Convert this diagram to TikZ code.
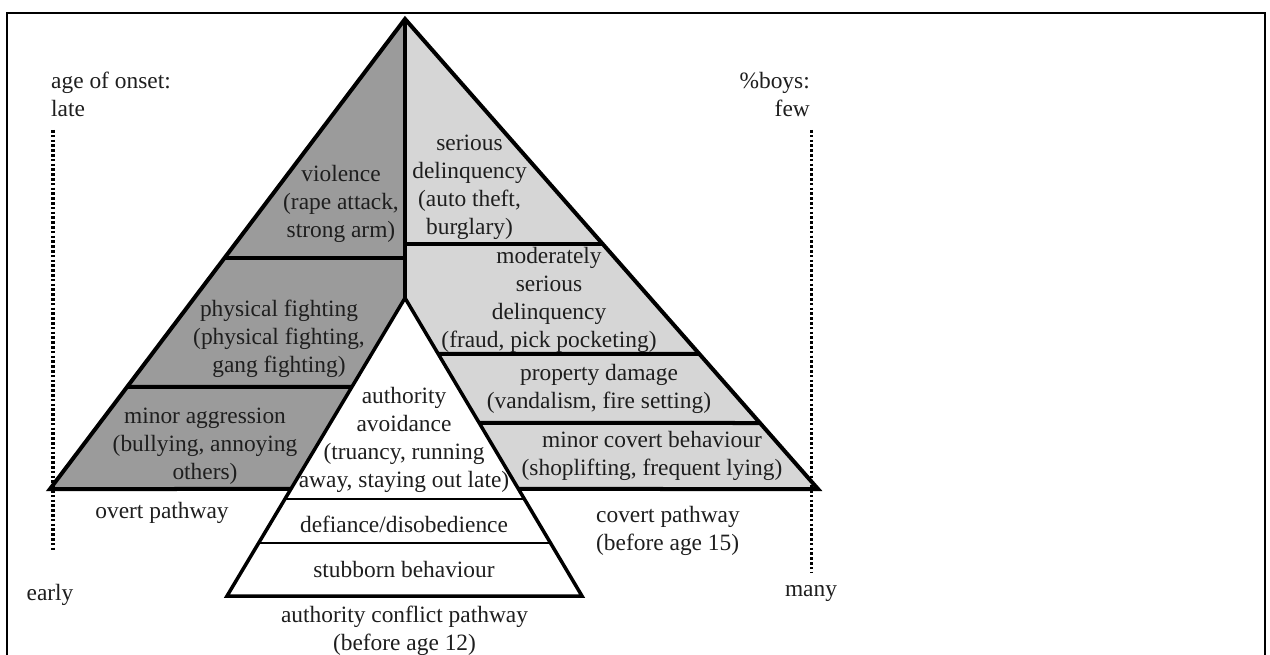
\documentclass[tikz,border=0pt]{standalone}
\usepackage{fontspec}
\setmainfont{Liberation Serif}
\usetikzlibrary{calc}
\definecolor{overtgray}{RGB}{155,155,155}
\definecolor{covertgray}{RGB}{214,214,214}
\definecolor{inktext}{RGB}{30,30,30}
\begin{document}
\begin{tikzpicture}[x=1pt,y=-1pt,
  lbl/.style={font=\fontsize{23.4}{28}\selectfont, inner sep=0pt, align=center, text=inktext},
  outline/.style={line width=4pt, line join=miter},
  innerline/.style={line width=3.5pt, line join=miter},
  sepline/.style={line width=4pt},
  thinsep/.style={line width=2.5pt},
  dotline/.style={line width=3.2pt, dash pattern=on 2.6pt off 2.2pt},
  frameline/.style={line width=2pt}]
\useasboundingbox (0,0) rectangle (1270,655);
\fill[white] (0,0) rectangle (1270,655);
% frame
\coordinate (f1) at (7,655);
\coordinate (f2) at (7,13);
\coordinate (f3) at (1265,13);
\coordinate (f4) at (1265,655);
\draw[frameline] (f1) -- (f2) -- (f3) -- (f4);
% main geometry
\coordinate (A) at (405,19);
\coordinate (L) at (50,489);
\coordinate (R) at (818,489);
\coordinate (I) at (405,298);
\coordinate (IL) at (227,596);
\coordinate (IR) at (582,596);
\coordinate (ILb) at ($(I)!{191/298}!(IL)$);
\coordinate (IRb) at ($(I)!{191/298}!(IR)$);
% fills
\fill[overtgray] (A) -- (L) -- (ILb) -- (I) -- cycle;
\fill[covertgray] (A) -- (R) -- (IRb) -- (I) -- cycle;
\fill[white] (I) -- (IL) -- (IR) -- cycle;
% separator points
\coordinate (l1) at ($(A)!{239/470}!(L)$);
\coordinate (l2) at ($(A)!{368/470}!(L)$);
\coordinate (l2r) at ($(I)!{89/298}!(IL)$);
\coordinate (r1) at ($(A)!{225/470}!(R)$);
\coordinate (r2) at ($(A)!{335/470}!(R)$);
\coordinate (r2l) at ($(I)!{56/298}!(IR)$);
\coordinate (r3) at ($(A)!{404/470}!(R)$);
\coordinate (r3l) at ($(I)!{125/298}!(IR)$);
\coordinate (i1l) at ($(I)!{201/298}!(IL)$);
\coordinate (i1r) at ($(I)!{201/298}!(IR)$);
\coordinate (i2l) at ($(I)!{245/298}!(IL)$);
\coordinate (i2r) at ($(I)!{245/298}!(IR)$);
\draw[sepline] (l1) -- (l1 -| A);
\draw[sepline] (l2) -- (l2r);
\draw[sepline] (A |- r1) -- (r1);
\draw[sepline] (r2l) -- (r2);
\draw[sepline] (r3l) -- (r3);
\draw[thinsep] (i1l) -- (i1r);
\draw[thinsep] (i2l) -- (i2r);
% outlines
\draw[outline] (ILb) -- (L) -- (A) -- (R) -- (IRb);
\draw[outline] (A) -- (I);
\draw[innerline] (I) -- (IL) -- (IR) -- cycle;
% dotted scales
\coordinate (dl1) at (53,130);
\coordinate (dl2) at (53,550);
\coordinate (dr1) at (811.5,130);
\coordinate (dr2) at (811.5,572);
\draw[dotline] (dl1) -- (dl2);
\draw[dotline] (dr1) -- (dr2);
% labels
\node[lbl, anchor=west, align=left] (onset) at (51,94) {age of onset:\\late};
\node[lbl, anchor=east, align=right] (boys) at (810,94) {\%boys:\\few};
\node[lbl] (viol) at (341,204) {violence\\(rape attack,\\strong arm)};
\node[lbl] (serious) at (469.5,187.5) {serious\\delinquency\\(auto theft,\\burglary)};
\node[lbl] (modser) at (549,300) {moderately\\serious\\delinquency\\(fraud, pick pocketing)};
\node[lbl] (phys) at (279,339) {physical fighting\\(physical fighting,\\gang fighting)};
\node[lbl] (minagg) at (205,446) {minor aggression\\(bullying, annoying\\others)};
\node[lbl] (avoid) at (404,439.5) {authority\\avoidance\\(truancy, running\\away, staying out late)};
\node[lbl] (defi) at (404,524) {defiance/disobedience};
\node[lbl] (stub) at (404,569) {stubborn behaviour};
\node[lbl] (acp) at (404.5,631) {authority conflict pathway\\(before age 12)};
\node[lbl] (overt) at (162,513) {overt pathway};
\node[lbl, anchor=west, align=left] (covert) at (596,531) {covert pathway\\(before age 15)};
\node[lbl] (prop) at (599,389) {property damage\\(vandalism, fire setting)};
\node[lbl] (mincov) at (652,455.5) {minor covert behaviour\\(shoplifting, frequent lying)};
\node[lbl] (early) at (50,595) {early};
\node[lbl] (many) at (811,594) {many};
\end{tikzpicture}
\end{document}
